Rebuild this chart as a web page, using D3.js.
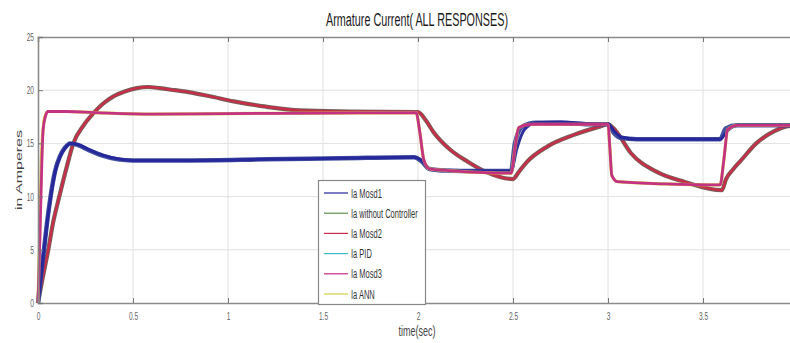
<!DOCTYPE html>
<html>
<head>
<meta charset="utf-8">
<script src="https://cdn.jsdelivr.net/npm/d3@7"></script>
<style>
  html, body { margin: 0; padding: 0; background: #fff; }
  svg { display: block; }
  text { font-family: 'Liberation Sans', Arial, sans-serif; }
</style>
</head>
<body>
<svg id="chart" width="790" height="343"></svg>
<script>
// ---------------- data ----------------
const xTicks = [0, 0.5, 1, 1.5, 2, 2.5, 3, 3.5];
const xTickLabels = ["0", "0.5", "1", "1.5", "2", "2.5", "3", "3.5"];
const yTicks = [0, 5, 10, 15, 20, 25];
const yTickLabels = ["0", "5", "10", "15", "20", "25"];

const seriesNames = ["Ia Mosd1", "Ia without Controller", "Ia Mosd2", "Ia PID", "Ia Mosd3", "Ia ANN"];
const seriesColors = ["#25259a", "#5f8f55", "#cc2a4a", "#3fb8c8", "#c22a86", "#d8cc40"];

// Ia Mosd1 (blue)
const tMosd1 =  [0, 0.015, 0.032, 0.05, 0.067, 0.09, 0.116, 0.14, 0.17, 0.21, 0.27, 0.34, 0.42, 0.5, 0.8, 1.2, 1.6, 1.98, 2.02, 2.06, 2.15, 2.3, 2.49, 2.52, 2.56, 2.62, 2.75, 2.9, 3.0, 3.03, 3.07, 3.15, 3.4, 3.59, 3.63, 3.68, 4.0];
const iaMosd1 = [0, 2.4, 5, 7.8, 10, 12.3, 13.75, 14.5, 15.0, 14.9, 14.4, 13.9, 13.55, 13.4, 13.4, 13.5, 13.6, 13.7, 13.4, 12.6, 12.45, 12.4, 12.4, 14.5, 16.3, 16.95, 17.0, 16.85, 16.8, 16.2, 15.6, 15.4, 15.4, 15.4, 16.2, 16.7, 16.7];
// Ia PID (under the blue line)
const tPID =  [0, 0.015, 0.032, 0.05, 0.067, 0.09, 0.116, 0.14, 0.17, 0.21, 0.27, 0.34, 0.42, 0.5, 0.8, 1.2, 1.6, 1.98, 2.02, 2.06, 2.15, 2.3, 2.49, 2.51, 2.55, 2.62, 2.75, 2.9, 3.0, 3.03, 3.07, 3.15, 3.4, 3.59, 3.62, 3.68, 4.0];
const iaPID = [0, 2.5, 5.1, 7.9, 10.1, 12.4, 13.8, 14.55, 15.0, 14.85, 14.35, 13.85, 13.5, 13.4, 13.4, 13.5, 13.6, 13.7, 13.3, 12.6, 12.45, 12.4, 12.4, 15.0, 16.6, 16.95, 16.95, 16.8, 16.8, 16.0, 15.5, 15.4, 15.4, 15.4, 16.4, 16.7, 16.7];

// Ia without Controller and Ia Mosd2 (slow red)
const tNoCtrl =  [0, 0.025, 0.054, 0.08, 0.112, 0.15, 0.186, 0.24, 0.29, 0.34, 0.395, 0.46, 0.52, 0.58, 0.64, 0.72, 0.8, 0.9, 1.03, 1.2, 1.38, 1.64, 2.0, 2.04, 2.08, 2.17, 2.26, 2.36, 2.5, 2.53, 2.57, 2.68, 2.82, 2.96, 3.0, 3.04, 3.12, 3.26, 3.4, 3.6, 3.62, 3.66, 3.7, 3.78, 3.87, 3.94, 4.0];
const iaNoCtrl = [0, 2.4, 5, 7.6, 10, 12.7, 15, 16.7, 17.8, 18.7, 19.4, 19.9, 20.2, 20.3, 20.2, 20.0, 19.8, 19.45, 18.95, 18.45, 18.1, 18.0, 17.95, 17.2, 16.1, 14.4, 13.3, 12.3, 11.65, 12.3, 13.2, 14.7, 15.8, 16.6, 16.8, 16.2, 14.1, 12.3, 11.4, 10.6, 11.6, 12.6, 13.4, 15.0, 16.1, 16.6, 16.7];
const tMosd2 = tNoCtrl;
const iaMosd2 =  [0, 2.4, 5, 7.6, 10, 12.7, 15, 16.7, 17.8, 18.7, 19.4, 19.9, 20.2, 20.3, 20.2, 20.0, 19.8, 19.45, 18.95, 18.45, 18.1, 18.0, 17.95, 17.2, 16.1, 14.4, 13.3, 12.3, 11.65, 12.3, 13.2, 14.7, 15.8, 16.6, 16.8, 16.2, 14.1, 12.3, 11.4, 10.6, 11.6, 12.6, 13.4, 15.0, 16.1, 16.6, 16.7];

// Ia Mosd3 and Ia ANN (fast magenta)
const tMosd3 =  [0, 0.01, 0.02, 0.027, 0.04, 0.053, 0.15, 0.3, 0.6, 1.0, 1.5, 1.99, 2.01, 2.03, 2.06, 2.2, 2.49, 2.51, 2.53, 2.6, 3.0, 3.01, 3.02, 3.05, 3.3, 3.59, 3.61, 3.63, 3.68, 4.0];
const iaMosd3 = [0, 6, 13, 16.3, 17.6, 18.0, 18.0, 17.9, 17.75, 17.8, 17.85, 17.9, 16.0, 13.5, 12.6, 12.4, 12.2, 14.5, 16.5, 16.8, 16.8, 14.5, 12.0, 11.4, 11.2, 11.1, 13.5, 16.3, 16.7, 16.7];
const tANN =  [0, 0.008, 0.018, 0.027, 0.04, 0.053, 0.15, 0.3, 0.6, 1.0, 1.5, 1.99, 2.01, 2.03, 2.06, 2.2, 2.49, 2.51, 2.53, 2.6, 3.0, 3.01, 3.02, 3.05, 3.3, 3.59, 3.61, 3.63, 3.68, 4.0];
const iaANN = [0, 6, 13.5, 16.4, 17.7, 18.0, 18.0, 17.9, 17.75, 17.8, 17.85, 17.9, 16.0, 13.5, 12.6, 12.4, 12.2, 14.5, 16.5, 16.8, 16.8, 14.5, 12.0, 11.4, 11.2, 11.1, 13.5, 16.3, 16.7, 16.7];

// ---------------- drawing ----------------
const svg = d3.select("#chart");
const m = { left: 38, top: 37, right: 798, bottom: 303 };
const SQ = 0.6; // the reference text is horizontally compressed

function squeeze(sel, f) {
  sel.each(function () {
    const n = this.getComputedTextLength();
    if (n > 0) d3.select(this).attr("textLength", n * f).attr("lengthAdjust", "spacingAndGlyphs");
  });
}

const x = d3.scaleLinear().domain([0, 4]).range([m.left, m.right]);
const y = d3.scaleLinear().domain([0, 25]).range([m.bottom, m.top]);

// grid
const grid = svg.append("g").attr("stroke", "#e0e0e0").attr("stroke-width", 1);
grid.selectAll(".gx").data(xTicks.slice(1)).join("line")
  .attr("x1", d => x(d)).attr("x2", d => x(d)).attr("y1", m.top).attr("y2", m.bottom);
grid.selectAll(".gy").data(yTicks.slice(1, -1)).join("line")
  .attr("y1", d => y(d)).attr("y2", d => y(d)).attr("x1", m.left).attr("x2", m.right);

// lines
const line = d3.line().curve(d3.curveMonotoneX).x(d => x(d[0])).y(d => y(d[1]));
const zip = (t, v) => t.map((tt, i) => [tt, v[i]]);

const layers = [
  { t: tNoCtrl, v: iaNoCtrl, c: "#6b5a4e", w: 4.2 },
  { t: tMosd2, v: iaMosd2, c: seriesColors[2], w: 2.4 },
  { t: tPID, v: iaPID, c: "#3a4a9a", w: 4.5 },
  { t: tMosd1, v: iaMosd1, c: seriesColors[0], w: 3 },
  { t: tANN, v: iaANN, c: seriesColors[5], w: 3.2 },
  { t: tMosd3, v: iaMosd3, c: seriesColors[4], w: 2.8 }
];
svg.append("g").selectAll("path").data(layers).join("path")
  .attr("d", d => line(zip(d.t, d.v)))
  .attr("fill", "none")
  .attr("stroke", d => d.c)
  .attr("stroke-width", d => d.w)
  .attr("stroke-linejoin", "round")
  .attr("opacity", 0.95);

// axes box
const axisColor = "#8a8a8a";
const xAxisB = d3.axisBottom(x).tickValues(xTicks).tickSize(-5).tickFormat((d, i) => xTickLabels[i]).tickPadding(9);
const xAxisT = d3.axisTop(x).tickValues(xTicks).tickSize(-5).tickFormat("");
const yAxisL = d3.axisLeft(y).tickValues(yTicks).tickSize(-5).tickFormat((d, i) => yTickLabels[i]).tickPadding(4);
const yAxisR = d3.axisRight(y).tickValues(yTicks).tickSize(-5).tickFormat("");

function styleAxis(g) {
  g.select(".domain").attr("stroke", axisColor).attr("stroke-width", 1.6);
  g.selectAll(".tick line").attr("stroke", "#777").attr("stroke-width", 1);
  g.selectAll(".tick text").attr("fill", "#666").attr("font-size", 11).call(squeeze, SQ);
}
svg.append("g").attr("transform", `translate(0,${m.bottom})`).call(xAxisB).call(styleAxis);
svg.append("g").attr("transform", `translate(0,${m.top})`).call(xAxisT).call(styleAxis);
svg.append("g").attr("transform", `translate(${m.left},0)`).call(yAxisL).call(styleAxis);
svg.append("g").attr("transform", `translate(${m.right},0)`).call(yAxisR).call(styleAxis);

// title and labels
svg.append("text").attr("x", 417).attr("y", 26).attr("text-anchor", "middle")
  .attr("font-size", 18).attr("fill", "#1a1a1a").text("Armature Current( ALL RESPONSES)")
  .call(squeeze, SQ);
svg.append("text").attr("x", 417).attr("y", 336).attr("text-anchor", "middle")
  .attr("font-size", 15).attr("fill", "#444").text("time(sec)")
  .call(squeeze, SQ);
svg.append("text").attr("text-anchor", "middle")
  .attr("font-size", 16).attr("fill", "#444").text("in Amperes")
  .attr("transform", "translate(22,170) rotate(-90) scale(1,0.62)");

// legend
const lg = svg.append("g");
lg.append("rect").attr("x", 318.5).attr("y", 180.5).attr("width", 107).attr("height", 124)
  .attr("fill", "#fff").attr("stroke", "#888").attr("stroke-width", 1.2);
const rowY = d3.scalePoint().domain(seriesNames).range([193, 294]);
const items = lg.selectAll(".item").data(seriesNames).join("g");
items.append("line").attr("x1", 324).attr("x2", 348)
  .attr("y1", d => rowY(d)).attr("y2", d => rowY(d))
  .attr("stroke", (d, i) => seriesColors[i]).attr("stroke-width", 1.2);
items.append("text").attr("x", 351).attr("y", d => rowY(d) + 4.5)
  .attr("font-size", 12.5).attr("fill", "#333").text(d => d)
  .call(squeeze, SQ);
</script>
</body>
</html>
